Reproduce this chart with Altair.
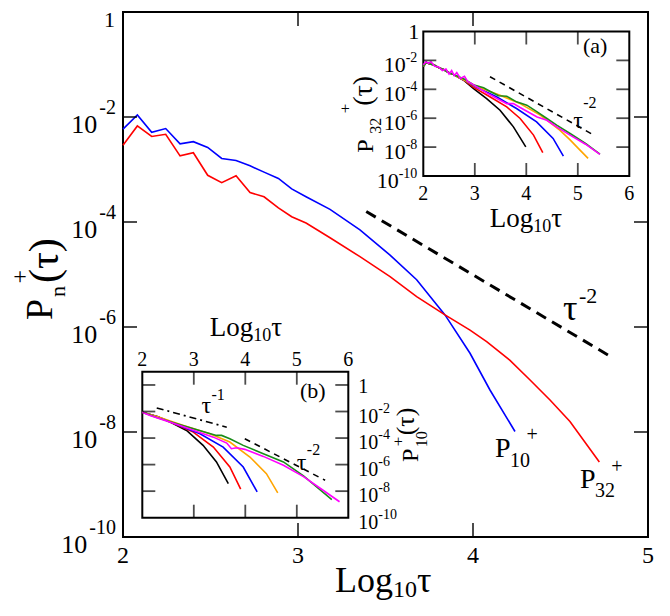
import altair as alt, pandas as pd, numpy as np

FONT = "Liberation Serif, Times New Roman, serif"

# main panel, values are log10 P_n^+(tau)
p10_x = [2.0, 2.082, 2.164, 2.244, 2.326, 2.402, 2.484, 2.564, 2.646, 2.726, 2.806,
         2.888, 2.964, 3.046, 3.183, 3.354, 3.526, 3.678, 3.84, 3.983, 4.097, 4.24]
p10_e = [-2.23, -1.96, -2.29, -2.22, -2.51, -2.47, -2.58, -2.79, -2.83, -2.93, -3.05,
         -3.17, -3.37, -3.52, -3.76, -4.15, -4.63, -5.10, -5.77, -6.50, -7.20, -7.99]
p32_x = [2.0, 2.082, 2.164, 2.244, 2.326, 2.402, 2.484, 2.564, 2.646, 2.726, 2.806,
         2.888, 2.964, 3.046, 3.183, 3.354, 3.526, 3.678, 3.84, 3.983, 4.078, 4.21,
         4.326, 4.44, 4.554, 4.722]
p32_e = [-2.54, -2.17, -2.37, -2.33, -2.74, -2.68, -3.11, -3.25, -3.12, -3.44, -3.52,
         -3.73, -3.90, -4.02, -4.30, -4.66, -5.04, -5.42, -5.77, -6.06, -6.28, -6.63,
         -7.01, -7.39, -7.80, -8.57]
guide_x = [3.39, 4.78]
guide_e = [-3.80, -6.55]

# inset (a): P_32^+
a_black_x = [2.0, 2.06, 2.13, 2.2, 2.3, 2.4, 2.5, 2.6, 2.7, 2.8, 2.97, 3.23, 3.49, 3.75, 3.99]
a_black_e = [-2.4, -2.15, -2.25, -2.3, -2.5, -2.65, -2.85, -3.0, -3.2, -3.42, -3.93, -4.64, -5.45, -6.6, -7.98]
a_red_x = [2.0, 2.06, 2.13, 2.2, 2.3, 2.4, 2.5, 2.6, 2.7, 2.8, 2.97, 3.30, 3.62, 3.88, 4.14, 4.32]
a_red_e = [-2.4, -2.15, -2.25, -2.3, -2.5, -2.65, -2.85, -3.0, -3.2, -3.4, -3.85, -4.53, -5.22, -6.02, -7.17, -8.39]
a_blue_x = [2.0, 2.06, 2.13, 2.2, 2.3, 2.4, 2.5, 2.6, 2.7, 2.8, 3.0, 3.43, 3.81, 4.20, 4.52, 4.72]
a_blue_e = [-2.4, -2.15, -2.25, -2.3, -2.5, -2.65, -2.85, -3.0, -3.2, -3.38, -3.8, -4.53, -5.33, -6.25, -7.4, -8.62]
a_orange_x = [2.0, 2.06, 2.13, 2.2, 2.3, 2.4, 2.5, 2.6, 2.7, 2.8, 3.0, 3.49, 3.88, 4.27, 4.65, 4.85, 5.0, 5.2]
a_orange_e = [-2.4, -2.15, -2.25, -2.3, -2.5, -2.65, -2.85, -3.0, -3.2, -3.38, -3.75, -4.41, -4.99, -5.79, -6.83, -7.5, -8.05, -8.78]
a_green_x = [2.0, 2.06, 2.13, 2.2, 2.3, 2.4, 2.5, 2.6, 2.7, 2.8, 2.97, 3.17, 3.30, 3.46, 3.62,
             3.81, 4.01, 4.21, 4.40, 4.59, 4.85, 5.15, 5.43]
a_green_e = [-2.4, -2.15, -2.25, -2.3, -2.5, -2.65, -2.85, -3.0, -3.15, -3.3, -3.68, -3.9, -4.15, -4.45, -4.48,
             -4.87, -5.10, -5.56, -6.02, -6.48, -7.06, -7.75, -8.48]
a_magenta_x = [2.0, 2.05, 2.1, 2.15, 2.22, 2.3, 2.37, 2.44, 2.5, 2.55, 2.6, 2.65, 2.72, 2.8, 2.86,
               2.94, 3.23, 3.43, 3.62, 3.75, 3.88, 4.21, 4.40, 4.59, 4.85, 5.15, 5.43]
a_magenta_e = [-2.3, -2.1, -2.2, -2.1, -2.4, -2.45, -2.7, -2.6, -2.95, -2.7, -3.05, -2.85, -3.25, -3.1, -3.45,
               -3.61, -4.25, -4.64, -4.99, -4.99, -5.26, -5.91, -6.14, -6.6, -7.17, -7.8, -8.5]
a_guide_x = [3.295, 5.27]
a_guide_e = [-3.13, -7.09]

# inset (b): P_10^+
b_black_x = [2.0, 2.3, 2.54, 2.86, 3.18, 3.44, 3.67]
b_black_e = [-2.05, -2.4, -2.8, -3.43, -4.55, -5.8, -7.43]
b_red_x = [2.0, 2.3, 2.60, 2.99, 3.38, 3.70, 3.91]
b_red_e = [-2.05, -2.4, -2.88, -3.55, -4.68, -6.18, -7.85]
b_blue_x = [2.0, 2.3, 2.67, 3.12, 3.57, 3.96, 4.23]
b_blue_e = [-2.05, -2.4, -2.98, -3.68, -4.68, -6.18, -8.05]
b_orange_x = [2.0, 2.3, 2.80, 3.31, 3.70, 4.09, 4.41, 4.63]
b_orange_e = [-2.05, -2.4, -3.05, -3.68, -4.3, -5.43, -6.68, -8.13]
b_green_x = [2.0, 2.28, 2.67, 3.06, 3.44, 3.54, 3.70, 3.96, 4.35, 4.74, 5.13, 5.68]
b_green_e = [-2.05, -2.45, -2.93, -3.38, -3.8, -3.8, -4.05, -4.55, -5.18, -5.8, -6.85, -8.63]
b_magenta_x = [2.0, 2.15, 2.41, 2.73, 3.06, 3.38, 3.64, 3.73, 3.83, 3.99, 4.35, 4.74, 5.13, 5.51, 5.83]
b_magenta_e = [-2.05, -2.3, -2.63, -3.05, -3.5, -3.93, -4.38, -4.8, -4.73, -4.85, -5.38, -6.05, -6.9, -7.93, -8.8]
b_guide1_x = [2.28, 3.64]
b_guide1_e = [-1.73, -3.18]
b_guide2_x = [3.99, 5.55]
b_guide2_e = [-4.05, -7.18]

main_xticks = [2, 3, 4, 5]
inset_xticks = [2, 3, 4, 5, 6]
ytick_exps = [0, -2, -4, -6, -8, -10]


def enc(sc):
    xsc, ysc = sc
    return dict(x=alt.X("x:Q", scale=xsc, axis=None), y=alt.Y("p:Q", scale=ysc, axis=None))


def curve(xs, es, color, sc, width=1.6, dash=None):
    df = pd.DataFrame({"x": xs, "p": 10.0 ** np.array(es, dtype=float)})
    kw = {"color": color, "strokeWidth": width}
    if dash:
        kw["strokeDash"] = dash
    return alt.Chart(df).mark_line(**kw).encode(**enc(sc))


def label(x, e, s, sc, size, dx=0, dy=0, align="left", baseline="alphabetic", angle=0):
    df = pd.DataFrame({"x": [x], "p": [10.0 ** e], "t": [s]})
    return alt.Chart(df).mark_text(font=FONT, fontSize=size, align=align, baseline=baseline,
                                   xOffset=dx, yOffset=dy, angle=angle, color="black").encode(text="t:N", **enc(sc))


def ticks(xs, es, sc, orient, size, width, dx=0, dy=0):
    df = pd.DataFrame([(x, 10.0 ** e) for x in xs for e in es], columns=["x", "p"])
    return alt.Chart(df).mark_tick(orient=orient, size=size, thickness=width, color="black",
                                   xOffset=dx, yOffset=dy).encode(**enc(sc))


def frame(sc, x0, x1, e0, e1):
    df = pd.DataFrame({"x": [x0], "x2": [x1], "p": [10.0 ** e0], "p2": [10.0 ** e1]})
    return alt.Chart(df).mark_rect(fill="white", stroke="black", strokeWidth=2).encode(
        x2="x2:Q", y2="p2:Q", **enc(sc))


def exp_w(s, size):
    return 0.333 * size + 0.5 * size * (len(s) - 1)


def sub_title(sc, x, e, dx, dy, big, small, drop):
    # Log_10 tau
    return [label(x, e, "Log", sc, big, dx, dy),
            label(x, e, "10", sc, small, dx + 1.61 * big, dy + drop),
            label(x, e, "\u03c4", sc, big, dx + 1.61 * big + small, dy)]


main_sc = (alt.Scale(domain=[2, 5], nice=False, zero=False),
           alt.Scale(type="log", domain=[1e-10, 1], nice=False))
a_sc = (alt.Scale(domain=[2, 6], nice=False, zero=False, range=[300.3, 506.3]),
        alt.Scale(type="log", domain=[1e-10, 1], nice=False, range=[164, 19.5]))
b_sc = (alt.Scale(domain=[2, 6], nice=False, zero=False, range=[19.3, 225.3]),
        alt.Scale(type="log", domain=[1e-10, 10], nice=False, range=[505.7, 359.7]))

# ---- main panel
main_layers = [
    curve(p10_x, p10_e, "#0000ff", main_sc),
    curve(p32_x, p32_e, "#ff0000", main_sc),
    curve(guide_x, guide_e, "black", main_sc, width=3, dash=[11, 7]),
    label(4.514, -5.87, "\u03c4", main_sc, 36),
    label(4.514, -5.87, "-2", main_sc, 22, dx=16, dy=-17),
    label(4.126, -8.48, "P", main_sc, 28),
    label(4.126, -8.48, "10", main_sc, 20, dx=15, dy=10),
    label(4.126, -8.48, "+", main_sc, 20, dx=37, dy=-22, align="center", baseline="middle"),
    label(4.611, -9.07, "P", main_sc, 28),
    label(4.611, -9.07, "32", main_sc, 20, dx=15, dy=9),
    label(4.611, -9.07, "+", main_sc, 20, dx=37, dy=-21, align="center", baseline="middle"),
    ticks([2], ytick_exps[1:-1], main_sc, "horizontal", 14, 2, dx=7),
    ticks([5], ytick_exps[1:-1], main_sc, "horizontal", 14, 2, dx=-7),
    ticks(main_xticks[1:-1], [-10], main_sc, "vertical", 14, 2, dy=-7),
    ticks(main_xticks[1:-1], [0], main_sc, "vertical", 14, 2, dy=7),
]
for v in main_xticks:
    main_layers.append(label(v, -10, str(v), main_sc, 24, dy=26, align="center"))
for e in ytick_exps:
    if e == 0:
        main_layers.append(label(2, e, "1", main_sc, 22, dx=-8, dy=15, align="right"))
    else:
        s = str(e)
        main_layers.append(label(2, e, s, main_sc, 20, dx=-7, dy=-3, align="right"))
        main_layers.append(label(2, e, "10", main_sc, 26, dx=-9 - exp_w(s, 20), dy=16, align="right"))
main_layers += sub_title(main_sc, 3, -10, 37, 55, 36, 24, 5)
main_layers += [
    label(2, -5, "P", main_sc, 38, dx=-71, dy=45.5, angle=270),
    label(2, -5, "n", main_sc, 22, dx=-58, dy=22.5, angle=270),
    label(2, -5, "+", main_sc, 24, dx=-103, dy=2.5, align="center", baseline="middle"),
    label(2, -5, "(\u03c4)", main_sc, 42, dx=-65, dy=8.5, angle=270),
]
main = alt.layer(*main_layers)

colors = ["#000000", "#ff0000", "#0000ff", "#ffa500", "#1a8c1a", "#ff00ff"]

# ---- inset (a)
a_layers = [frame(a_sc, 2, 6, -10, 0)]
for xs, es, c in zip([a_black_x, a_red_x, a_blue_x, a_orange_x, a_green_x, a_magenta_x],
                     [a_black_e, a_red_e, a_blue_e, a_orange_e, a_green_e, a_magenta_e], colors):
    a_layers.append(curve(xs, es, c, a_sc))
a_layers += [
    curve(a_guide_x, a_guide_e, "black", a_sc, width=1.6, dash=[6, 5]),
    label(4.91, -6.68, "\u03c4", a_sc, 24),
    label(4.91, -6.68, "-2", a_sc, 16, dx=10, dy=-20),
    label(5.10, -1.49, "(a)", a_sc, 22),
    ticks([2], ytick_exps[1:-1], a_sc, "horizontal", 13, 1.8, dx=6.5),
    ticks([6], ytick_exps[1:-1], a_sc, "horizontal", 13, 1.8, dx=-6.5),
    ticks(inset_xticks[1:-1], [-10], a_sc, "vertical", 13, 1.8, dy=-6.5),
    ticks(inset_xticks[1:-1], [0], a_sc, "vertical", 13, 1.8, dy=6.5),
]
for v in inset_xticks:
    a_layers.append(label(v, -10, str(v), a_sc, 20, dy=24, align="center"))
for e in ytick_exps:
    if e == 0:
        a_layers.append(label(2, e, "1", a_sc, 22, dx=-4, dy=7, align="right"))
    else:
        s = str(e)
        a_layers.append(label(2, e, s, a_sc, 14, dx=-6, dy=2, align="right"))
        a_layers.append(label(2, e, "10", a_sc, 22, dx=-6 - exp_w(s, 14), dy=12, align="right"))
a_layers += sub_title(a_sc, 3, -10, 15, 51, 27, 18, 5)
a_layers += [
    label(2, -5, "P", a_sc, 24, dx=-50, dy=49, angle=270),
    label(2, -5, "32", a_sc, 16, dx=-42, dy=30, angle=270),
    label(2, -5, "+", a_sc, 16, dx=-78, dy=5, align="center", baseline="middle"),
    label(2, -5, "(\u03c4)", a_sc, 28, dx=-51, dy=2, angle=270),
]
inset_a = alt.layer(*a_layers)

# ---- inset (b)
b_layers = [frame(b_sc, 2, 6, -10, 1)]
for xs, es, c in zip([b_black_x, b_red_x, b_blue_x, b_orange_x, b_green_x, b_magenta_x],
                     [b_black_e, b_red_e, b_blue_e, b_orange_e, b_green_e, b_magenta_e], colors):
    b_layers.append(curve(xs, es, c, b_sc))
b_layers += [
    curve(b_guide1_x, b_guide1_e, "black", b_sc, width=1.6, dash=[7, 4, 2, 4]),
    curve(b_guide2_x, b_guide2_e, "black", b_sc, width=1.6, dash=[6, 5]),
    label(3.15, -2.11, "\u03c4", b_sc, 24),
    label(3.15, -2.11, "-1", b_sc, 16, dx=10, dy=-13),
    label(5.0, -6.41, "\u03c4", b_sc, 24),
    label(5.0, -6.41, "-2", b_sc, 16, dx=10, dy=-15),
    label(5.06, -0.98, "(b)", b_sc, 22),
    ticks([2], ytick_exps[:-1], b_sc, "horizontal", 13, 1.8, dx=6.5),
    ticks([6], ytick_exps[:-1], b_sc, "horizontal", 13, 1.8, dx=-6.5),
    ticks(inset_xticks[1:-1], [-10], b_sc, "vertical", 13, 1.8, dy=-6.5),
    ticks(inset_xticks[1:-1], [1], b_sc, "vertical", 13, 1.8, dy=6.5),
]
for v in inset_xticks:
    b_layers.append(label(v, 1, str(v), b_sc, 20, dy=-6, align="center"))
for e in ytick_exps:
    if e == 0:
        b_layers.append(label(6, e, "1", b_sc, 20, dx=10, dy=8))
    else:
        b_layers.append(label(6, e, "10", b_sc, 20, dx=10, dy=11))
        b_layers.append(label(6, e, str(e), b_sc, 14, dx=30, dy=1))
b_layers += sub_title(b_sc, 3, 1, 16, -36, 27, 18, 5)
b_layers += [
    label(6, -5, "P", b_sc, 24, dx=70, dy=10.6, angle=270),
    label(6, -5, "10", b_sc, 16, dx=79, dy=-4, angle=270),
    label(6, -5, "+", b_sc, 16, dx=50, dy=-9, align="center", baseline="middle"),
    label(6, -5, "(\u03c4)", b_sc, 26, dx=66, dy=-16, angle=270),
]
inset_b = alt.layer(*b_layers)

chart = alt.layer(main, inset_a, inset_b).resolve_scale(
    x="independent", y="independent"
).properties(
    width=525, height=525,
    autosize=alt.AutoSizeParams(type="none"),
    padding={"left": 115, "top": 4, "right": 14, "bottom": 68},
).configure_view(stroke="black", strokeWidth=2)

chart.save("out.html", embed_options={"renderer": "svg", "actions": False})
